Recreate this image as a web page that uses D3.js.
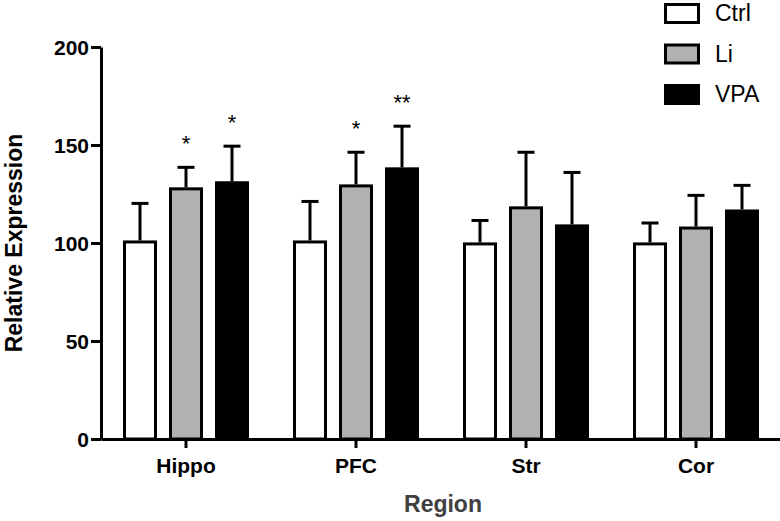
<!DOCTYPE html>
<html>
<head>
<meta charset="utf-8">
<script src="https://cdn.jsdelivr.net/npm/d3@7"></script>
<style>
  body { margin: 0; background: #fff; }
  text { font-family: "Liberation Sans", Arial, sans-serif; }
</style>
</head>
<body>
<div id="chart"></div>
<script>
// data
var regions = ["Hippo", "PFC", "Str", "Cor"];
var groups = ["Ctrl", "Li", "VPA"];
var ctrlMean = [101.3, 101.3, 100.3, 100.3];
var ctrlErr  = [120.2, 121.2, 111.5, 110.2];
var liMean   = [128.4, 129.9, 118.7, 108.4];
var liErr    = [138.6, 146.3, 146.3, 124.3];
var vpaMean  = [131.5, 138.6, 109.5, 117.1];
var vpaErr   = [149.4, 159.6, 136.0, 129.4];
var liSig    = ["*", "*", "", ""];
var vpaSig   = ["*", "**", "", ""];
var yTicks = [0, 50, 100, 150, 200];
var fills = ["#ffffff", "#b1b1b3", "#000000"];

var width = 780, height = 521;

var rows = [];
regions.forEach(function (r, i) {
    rows.push({ region: r, group: "Ctrl", mean: ctrlMean[i], top: ctrlErr[i], sig: "" });
    rows.push({ region: r, group: "Li", mean: liMean[i], top: liErr[i], sig: liSig[i] });
    rows.push({ region: r, group: "VPA", mean: vpaMean[i], top: vpaErr[i], sig: vpaSig[i] });
});

var svg = d3.select("#chart").append("svg")
    .attr("width", width)
    .attr("height", height);

// scales
var x0 = d3.scaleBand().domain(regions).range([101, 781]);
var x1 = d3.scaleBand().domain(groups).range([22, 148]).paddingInner(12 / 46);
var y = d3.scaleLinear().domain([0, 200]).range([439, 47]);
var color = d3.scaleOrdinal().domain(groups).range(fills);

// bars
var bars = svg.append("g").selectAll("g.bar").data(rows).enter()
    .append("g").attr("class", "bar");

bars.append("line")
    .attr("x1", function (d) { return x0(d.region) + x1(d.group) + x1.bandwidth() / 2; })
    .attr("x2", function (d) { return x0(d.region) + x1(d.group) + x1.bandwidth() / 2; })
    .attr("y1", function (d) { return y(d.mean); })
    .attr("y2", function (d) { return y(d.top); })
    .attr("stroke", "#000").attr("stroke-width", 3);

bars.append("line")
    .attr("x1", function (d) { return x0(d.region) + x1(d.group) + x1.bandwidth() / 2 - 8.5; })
    .attr("x2", function (d) { return x0(d.region) + x1(d.group) + x1.bandwidth() / 2 + 8.5; })
    .attr("y1", function (d) { return y(d.top); })
    .attr("y2", function (d) { return y(d.top); })
    .attr("stroke", "#000").attr("stroke-width", 3);

bars.append("rect")
    .attr("x", function (d) { return x0(d.region) + x1(d.group) + 1.5; })
    .attr("y", function (d) { return y(d.mean) + 1.5; })
    .attr("width", x1.bandwidth() - 3)
    .attr("height", function (d) { return y(0) - y(d.mean) - 1.5; })
    .attr("fill", function (d) { return color(d.group); })
    .attr("stroke", "#000").attr("stroke-width", 3);

bars.append("text")
    .attr("x", function (d) { return x0(d.region) + x1(d.group) + x1.bandwidth() / 2; })
    .attr("y", function (d) { return y(d.top) - 16; })
    .attr("text-anchor", "middle")
    .attr("font-size", 22)
    .text(function (d) { return d.sig; });

// axes
var yAxis = svg.append("g")
    .attr("transform", "translate(101,0)")
    .call(d3.axisLeft(y).tickValues(yTicks).tickSize(10).tickSizeOuter(0).tickPadding(2));

var xAxis = svg.append("g")
    .attr("transform", "translate(0,439)")
    .call(d3.axisBottom(x0).tickSize(9).tickSizeOuter(0).tickPadding(10));

[yAxis, xAxis].forEach(function (a) {
    a.select(".domain").attr("stroke", "#000").attr("stroke-width", 3);
    a.selectAll(".tick line").attr("stroke", "#000").attr("stroke-width", 3);
    a.selectAll(".tick text")
        .attr("fill", "#000")
        .attr("font-size", 21)
        .attr("font-weight", "bold")
        .style("font-family", "'Liberation Sans', Arial, sans-serif");
});
yAxis.selectAll(".tick text").attr("dy", "0.36em");

// axis titles
svg.append("text")
    .attr("transform", "translate(22,243)rotate(-90)")
    .attr("text-anchor", "middle")
    .attr("font-size", 23)
    .attr("font-weight", "bold")
    .text("Relative Expression");

svg.append("text")
    .attr("x", 443)
    .attr("y", 512)
    .attr("text-anchor", "middle")
    .attr("font-size", 23)
    .attr("font-weight", "bold")
    .attr("fill", "#404040")
    .text("Region");

// legend
var legend = svg.append("g").selectAll("g").data(groups).enter()
    .append("g")
    .attr("transform", function (d, i) { return "translate(664," + (3 + i * 40.5) + ")"; });

legend.append("rect")
    .attr("x", 1.5).attr("y", 1.5)
    .attr("width", 33).attr("height", 18)
    .attr("fill", function (d) { return color(d); })
    .attr("stroke", "#000").attr("stroke-width", 3);

legend.append("text")
    .attr("x", 51)
    .attr("y", 18)
    .attr("font-size", 23)
    .text(function (d) { return d; });
</script>
</body>
</html>
